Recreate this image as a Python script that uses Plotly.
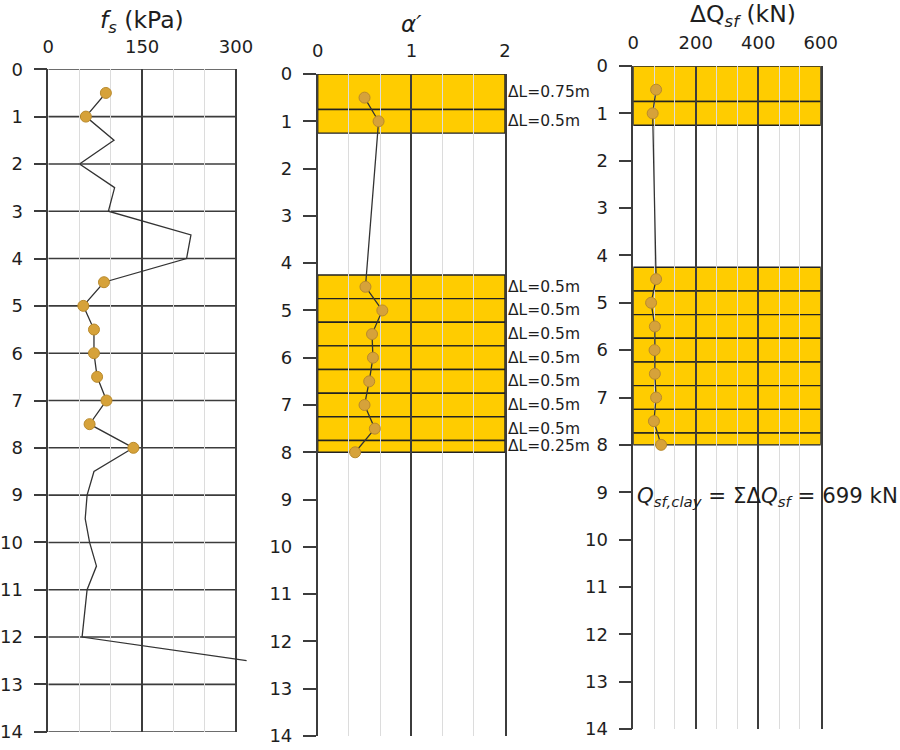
import plotly.graph_objects as go

# shaft friction profile (depth in m, f_s in kPa)
fs_depth = [0.5, 1.0, 1.5, 2.0, 2.5, 3.0, 3.5, 4.0, 4.5, 5.0, 5.5, 6.0, 6.5,
            7.0, 7.5, 8.0, 8.5, 9.0, 9.5, 10.0, 10.5, 11.0, 11.5, 12.0, 12.5]
fs_kpa = [92, 60, 105, 50, 106, 96, 228, 221, 89, 56, 73, 73, 78,
          93, 66, 136, 73, 62, 59, 66, 77, 62, 58, 54, 317]

# clay slices used for the alpha method
clay_depth = [0.5, 1.0, 4.5, 5.0, 5.5, 6.0, 6.5, 7.0, 7.5, 8.0]
alpha = [0.50, 0.65, 0.51, 0.69, 0.58, 0.59, 0.55, 0.50, 0.61, 0.40]
dq_kn = [73, 62, 73, 57, 69, 68, 69, 73, 66, 89]
slice_top = [0, 0.75, 4.25, 4.75, 5.25, 5.75, 6.25, 6.75, 7.25, 7.75]
slice_dl = [0.75, 0.5, 0.5, 0.5, 0.5, 0.5, 0.5, 0.5, 0.5, 0.25]

depth_ticks = list(range(0, 15))

fs_major = [0, 150, 300]
fs_minor = [50, 100, 200, 250]
alpha_major = [0, 1, 2]
alpha_minor = [1 / 3, 2 / 3, 4 / 3, 5 / 3]
dq_major = [0, 200, 400, 600]
dq_minor = [200 / 3, 400 / 3, 800 / 3, 1000 / 3, 1400 / 3, 1600 / 3]

FONT = "DejaVu Sans, Arial, sans-serif"
DARK = "#3c3c3c"
LIGHT = "#dcdcdc"
YELLOW = "#FFCC00"
DOT = "#D6A23A"
DOT_EDGE = "#B98A2C"
TXT = "#1e1e1e"

fs_clay = [fs_kpa[fs_depth.index(d)] for d in clay_depth]

fig = go.Figure()

# panel 1: f_s
fig.add_trace(go.Scatter(x=fs_kpa, y=fs_depth, mode="lines",
                         line=dict(color="#333333", width=1.3),
                         xaxis="x", yaxis="y", showlegend=False))
fig.add_trace(go.Scatter(x=fs_clay, y=clay_depth, mode="markers",
                         marker=dict(size=11, color=DOT, line=dict(color=DOT_EDGE, width=1)),
                         xaxis="x", yaxis="y", showlegend=False, cliponaxis=False))

# panel 2: alpha
fig.add_trace(go.Scatter(x=alpha, y=clay_depth, mode="lines+markers",
                         line=dict(color="#333333", width=1.3),
                         marker=dict(size=11, color=DOT, line=dict(color=DOT_EDGE, width=1)),
                         xaxis="x2", yaxis="y2", showlegend=False, cliponaxis=False))

# panel 3: delta Q
fig.add_trace(go.Scatter(x=dq_kn, y=clay_depth, mode="lines+markers",
                         line=dict(color="#333333", width=1.3),
                         marker=dict(size=11, color=DOT, line=dict(color=DOT_EDGE, width=1)),
                         xaxis="x3", yaxis="y3", showlegend=False, cliponaxis=False))

shapes = []
# horizontal depth lines in panel 1
for d in depth_ticks:
    shapes.append(dict(type="line", xref="x", yref="y", x0=0, x1=fs_major[-1],
                       y0=d, y1=d, layer="below", line=dict(color=DARK, width=1.6)))
# clay slices in panels 2 and 3
for top, dl in zip(slice_top, slice_dl):
    for xr, yr, xmax in [("x2", "y2", alpha_major[-1]), ("x3", "y3", dq_major[-1])]:
        shapes.append(dict(type="rect", xref=xr, yref=yr, x0=0, x1=xmax,
                           y0=top, y1=top + dl, layer="below",
                           fillcolor=YELLOW, line=dict(color="#222222", width=1.4)))

annotations = []
for top, dl in zip(slice_top, slice_dl):
    annotations.append(dict(xref="x2", yref="y2", x=alpha_major[-1], y=top + dl / 2,
                            text=f"ΔL={dl:g}m", showarrow=False, xanchor="left",
                            yanchor="middle", xshift=1,
                            font=dict(family=FONT, size=15.5, color=TXT)))

annotations += [
    dict(xref="paper", yref="paper", x=142 / 900, y=1 - 21 / 750,
         text="<i>f</i><sub><i>s</i></sub> (kPa)", showarrow=False,
         xanchor="center", yanchor="middle", font=dict(family=FONT, size=23.5, color=TXT)),
    dict(xref="paper", yref="paper", x=411 / 900, y=1 - 24 / 750,
         text="<i>α′</i>", showarrow=False,
         xanchor="center", yanchor="middle", font=dict(family=FONT, size=23, color=TXT)),
    dict(xref="paper", yref="paper", x=743 / 900, y=1 - 15 / 750,
         text="ΔQ<sub><i>sf</i></sub> (kN)", showarrow=False,
         xanchor="center", yanchor="middle", font=dict(family=FONT, size=23.5, color=TXT)),
    dict(xref="x3", yref="y3", x=0, y=9.1,
         text=f"<i>Q</i><sub><i>sf,clay</i></sub> = ΣΔ<i>Q</i><sub><i>sf</i></sub> = {sum(dq_kn):.0f} kN",
         showarrow=False, xanchor="left", yanchor="middle", xshift=2,
         font=dict(family=FONT, size=21.3, color=TXT)),
]


def x_axis(domain, rng, major, minor, anchor):
    return dict(domain=domain, range=rng, side="top", anchor=anchor,
                tickmode="array", tickvals=major, ticks="",
                showgrid=True, gridcolor=DARK, gridwidth=1.6,
                zeroline=False, showline=False, ticklabelstandoff=12,
                automargin=False,
                tickfont=dict(family=FONT, size=18, color=TXT),
                minor=dict(tickmode="array", tickvals=minor, showgrid=True,
                           gridcolor=LIGHT, gridwidth=1.2, ticks=""),
                fixedrange=True)


def y_axis(domain, anchor, mirror):
    return dict(domain=domain, range=[14, 0], anchor=anchor,
                tickmode="array", tickvals=depth_ticks, ticks="outside",
                ticklen=13, tickwidth=1.5, tickcolor=DARK,
                showline=True, linecolor=DARK, linewidth=1.6, mirror=mirror,
                showgrid=False, zeroline=False, ticklabelstandoff=7,
                automargin=False,
                tickfont=dict(family=FONT, size=18, color=TXT),
                fixedrange=True)


fig.update_layout(
    template="none",
    width=900, height=750,
    margin=dict(l=0, r=0, t=0, b=0),
    paper_bgcolor="white", plot_bgcolor="white",
    xaxis=x_axis([48.3 / 900, 248.5 / 900], [0, 320], fs_major, fs_minor, "y"),
    yaxis=y_axis([1 - 731.7 / 750, 1 - 69.3 / 750], "x", False),
    xaxis2=x_axis([317.7 / 900, 505 / 900], [0, 2], alpha_major, alpha_minor, "y2"),
    yaxis2=y_axis([1 - 736 / 750, 1 - 74 / 750], "x2", True),
    xaxis3=x_axis([633.3 / 900, 820.7 / 900], [0, 600], dq_major, dq_minor, "y3"),
    yaxis3=y_axis([1 - 729 / 750, 1 - 66 / 750], "x3", True),
    shapes=shapes,
    annotations=annotations,
)

# drop the browser's default page margin so the figure sits at the window corner
fig.write_html("out.html", config={"displayModeBar": False},
               post_script="document.body.style.margin='0';")
